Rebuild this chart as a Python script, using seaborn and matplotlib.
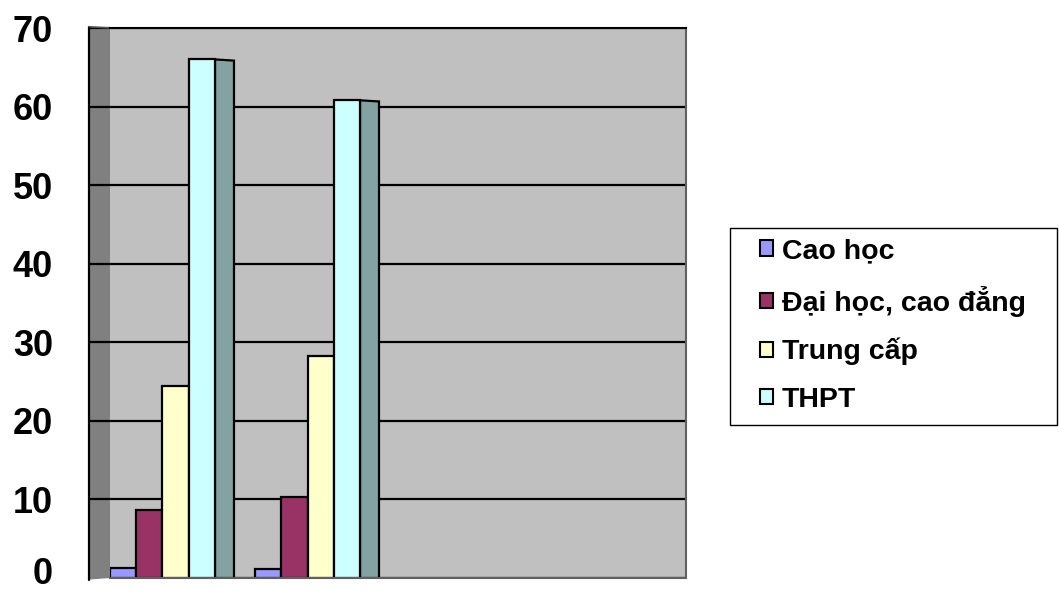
import numpy as np
import pandas as pd
import seaborn as sns
import matplotlib
matplotlib.use("Agg")
import matplotlib.pyplot as plt
from matplotlib.patches import Polygon, Rectangle
from matplotlib.colors import to_rgb
from matplotlib.transforms import ScaledTranslation

# Education level shares (%) for two groups
groups = ["Nhóm 1", "Nhóm 2"]
levels = ["Cao học", "Đại học, cao đẳng", "Trung cấp", "THPT"]
cao_hoc = [1.3, 1.2]
dai_hoc = [8.6, 10.3]
trung_cap = [24.5, 28.2]
thpt = [66.0, 60.8]
colors = ["#9999FF", "#993366", "#FFFFCC", "#CCFFFF"]
yticks = [0, 10, 20, 30, 40, 50, 60, 70]

df = pd.DataFrame({
    "nhom": groups * 4,
    "trinh_do": [lv for lv in levels for _ in groups],
    "ty_le": cao_hoc + dai_hoc + trung_cap + thpt,
})

sns.set_theme(style="white")
plt.rcParams["font.family"] = ["Liberation Sans", "DejaVu Sans"]
plt.rcParams["text.color"] = "black"
plt.rcParams["ytick.color"] = "black"

W, H = 1059, 592
fig = plt.figure(figsize=(W / 100, H / 100), dpi=100)
fig.patch.set_facecolor("white")

# plot area in pixel coordinates
left, right, top, bottom = 110, 686, 28, 578
ax = fig.add_axes([left / W, (H - bottom) / H, (right - left) / W, (bottom - top) / H])
ax.set_facecolor("#C0C0C0")

sns.barplot(data=df, x="nhom", y="ty_le", hue="trinh_do", hue_order=levels,
            palette=colors, width=0.724, saturation=1, edgecolor="black",
            linewidth=1.6, ax=ax, zorder=2)
handles, labels = ax.get_legend_handles_labels()
if ax.get_legend() is not None:
    ax.get_legend().remove()

# side faces giving the columns some depth
depth = 0.131
for cont in ax.containers:
    for bar in cont:
        x0 = bar.get_x() + bar.get_width()
        h = bar.get_height()
        fc = np.array(to_rgb(bar.get_facecolor())) * 0.64
        side = Polygon([(x0, 0), (x0, h), (x0 + depth, h - 0.15), (x0 + depth, 0)],
                       closed=True, facecolor=fc, edgecolor="black",
                       linewidth=1.6, zorder=1.5)
        ax.add_patch(side)

ax.set_xlim(-0.362, 3.61)
ax.set_ylim(0, 70)
ax.set_yticks(yticks)
ax.set_yticklabels([str(t) for t in yticks], fontsize=26, fontweight="bold",
                   color="black")
ax.tick_params(axis="y", length=0, pad=41, labelcolor="black")
ax.tick_params(axis="x", length=0, labelbottom=False)
ax.set_xlabel("")
ax.set_ylabel("")

# nudge the bottom label up so it stays inside the canvas
zero_lbl = ax.get_yticklabels()[0]
zero_lbl.set_transform(zero_lbl.get_transform()
                       + ScaledTranslation(0, 7 / 100, fig.dpi_scale_trans))

# horizontal gridlines
ax.set_axisbelow(True)
ax.yaxis.grid(True, color="black", linewidth=1.6)
ax.xaxis.grid(False)

ax.spines["left"].set_visible(False)
ax.spines["top"].set_color("black")
ax.spines["top"].set_linewidth(1.5)
for s in ["right", "bottom"]:
    ax.spines[s].set_color("#606060")
    ax.spines[s].set_linewidth(1.5)

# left side wall
wall_x = (89 - left) / (right - left)
ytr = ax.get_yaxis_transform()
wall = Polygon([(wall_x, 70.15), (0, 70), (0, 0), (wall_x, -0.2)], closed=True,
               facecolor="#808080", edgecolor="none", transform=ytr,
               clip_on=False, zorder=0.8)
ax.add_patch(wall)
ax.hlines(yticks[1:], wall_x, 0, colors="black", linewidth=1.6,
          transform=ytr, clip_on=False, zorder=0.9)
ax.plot([wall_x, wall_x], [-0.2, 70.15], color="black", linewidth=1.6,
        transform=ytr, clip_on=False, zorder=0.9)
ax.plot([wall_x, 0], [70.15, 70], color="#505050", linewidth=1.2,
        transform=ytr, clip_on=False, zorder=0.9)

# legend box and entries
fig.patches.append(Rectangle((730 / W, 1 - 425 / H), 327 / W, 197 / H,
                             transform=fig.transFigure, facecolor="white",
                             edgecolor="black", linewidth=1.0, zorder=3))
leg = fig.legend(handles, labels, loc="center left",
                 bbox_to_anchor=(760 / W, 1 - 325.5 / H),
                 prop={"size": 20.5, "weight": "bold"},
                 frameon=False,
                 handlelength=0.46, handleheight=0.46, handletextpad=0.3,
                 labelspacing=0.75, borderpad=0, borderaxespad=0)
leg.set_zorder(4)
for hnd in leg.legend_handles:
    hnd.set_edgecolor("black")
    hnd.set_linewidth(1.5)

fig.savefig("out.png", dpi=100)
